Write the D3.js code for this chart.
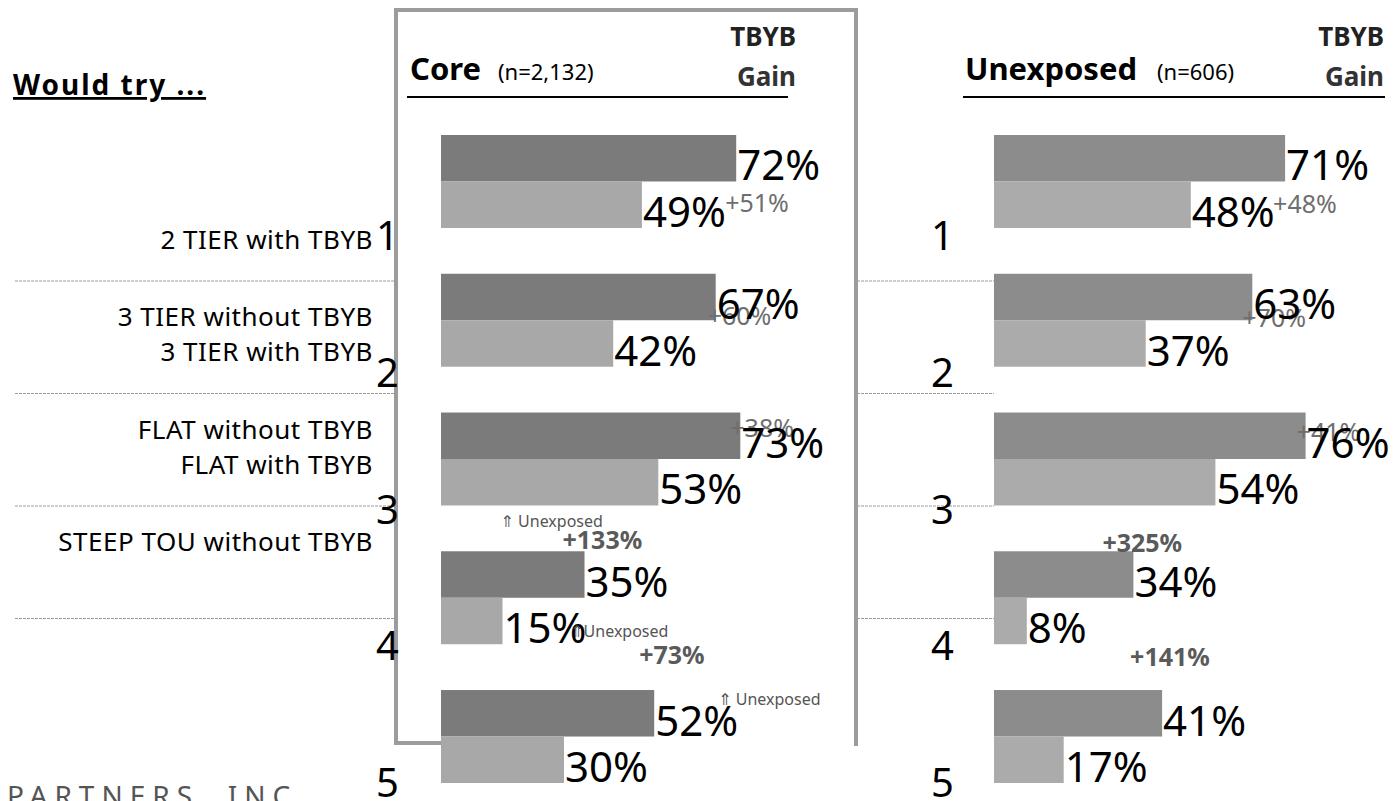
<!DOCTYPE html>
<html>
<head>
<meta charset="utf-8">
<script src="https://cdn.jsdelivr.net/npm/d3@7"></script>
<style>
body { margin: 0; background: #fff; }
svg { display: block; }
text { font-family: "Noto Sans", "DejaVu Sans", sans-serif; }
</style>
</head>
<body>
<div class="render"></div>
<script>
// values
var categories = ["1", "2", "3", "4", "5"];
var coreWith = [72, 67, 73, 35, 52];
var coreWithout = [49, 42, 53, 15, 30];
var coreGain = ["+51%", "+60%", "+38%", "+133%", "+73%"];
var unexWith = [71, 63, 76, 34, 41];
var unexWithout = [48, 37, 54, 8, 17];
var unexGain = ["+48%", "+70%", "+41%", "+325%", "+141%"];
var rowLabels = [
    ["", "2 TIER with TBYB"],
    ["3 TIER without TBYB", "3 TIER with TBYB"],
    ["FLAT without TBYB", "FLAT with TBYB"],
    ["STEEP TOU without TBYB", ""],
    ["", ""]
];

var W = 1397, H = 801;
var svg = d3.select(".render").append("svg").attr("width", W).attr("height", H);

// shared scales
var x = d3.scaleLinear().domain([0, 100]).range([0, 410]);
var y = d3.scaleBand().domain(categories).range([135, 783]).paddingInner(0.33);
var sub = d3.scaleBand().domain(["with", "without"]).range([0, y.bandwidth()]);
var numY = d3.scalePoint().domain(categories).range([250, 797]);
var rowY = d3.scaleBand().domain(categories).range([168.5, 731]);

// dotted separators between rows
var seps = categories.slice(1);
[[15, 396], [857, 994]].forEach(function (span) {
    svg.append("g").selectAll("line").data(seps).enter().append("line")
        .attr("x1", span[0]).attr("x2", span[1])
        .attr("y1", function (d) { return rowY(d); })
        .attr("y2", function (d) { return rowY(d); })
        .attr("stroke", "#9a9a9a")
        .attr("stroke-width", 1)
        .attr("stroke-dasharray", "3,1");
});

// left header + row labels
svg.append("text").attr("x", 13).attr("y", 95)
    .attr("font-size", 28).attr("font-weight", "bold")
    .attr("letter-spacing", 2)
    .attr("text-decoration", "underline")
    .text("Would try ...");

var rows = svg.append("g").selectAll("g").data(rowLabels).enter().append("g")
    .attr("transform", function (d, i) { return "translate(0," + rowY(categories[i]) + ")"; });
rows.selectAll("text").data(function (d) { return d; }).enter().append("text")
    .attr("x", 373)
    .attr("y", function (d, i) { return i === 0 ? 45 : 80; })
    .attr("text-anchor", "end")
    .attr("font-size", 26)
    .attr("letter-spacing", 0.5)
    .text(function (d) { return d; });

svg.append("text").attr("x", 7).attr("y", 806)
    .attr("font-family", "Liberation Serif, serif")
    .attr("font-size", 28).attr("letter-spacing", 7)
    .attr("fill", "#555")
    .text("PARTNERS, INC.");

// box around the Core panel
svg.append("path")
    .attr("d", "M396,745 L396,10 L856,10 L856,746 M396,743 L441,743")
    .attr("fill", "none").attr("stroke", "#9c9c9c").attr("stroke-width", 4);

function panel(p) {
    var g = svg.append("g").attr("transform", "translate(" + p.x0 + ",0)");

    // header
    g.append("text").attr("x", p.titleX).attr("y", 80)
        .attr("font-size", 31).attr("font-weight", "bold").text(p.title);
    g.append("text").attr("x", p.nX).attr("y", 80)
        .attr("font-size", 22).text(p.n);
    g.append("text").attr("x", p.gainX).attr("y", 46).attr("text-anchor", "end")
        .attr("font-size", 26).attr("font-weight", "bold").attr("fill", "#222").text("TBYB");
    g.append("text").attr("x", p.gainX).attr("y", 86).attr("text-anchor", "end")
        .attr("font-size", 26).attr("font-weight", "bold").attr("fill", "#333").text("Gain");
    g.append("line").attr("x1", p.lineX[0]).attr("x2", p.lineX[1])
        .attr("y1", 97).attr("y2", 97).attr("stroke", "#000").attr("stroke-width", 2);

    var data = categories.map(function (c, i) {
        return { cat: c, with: p.withV[i], without: p.withoutV[i], gain: p.gain[i], i: i };
    });

    var grp = g.selectAll(".grp").data(data).enter().append("g")
        .attr("class", "grp")
        .attr("transform", function (d) { return "translate(0," + y(d.cat) + ")"; });

    grp.append("rect").attr("x", 0).attr("y", sub("with"))
        .attr("width", function (d) { return x(d.with); })
        .attr("height", sub.bandwidth()).attr("fill", p.dark);
    grp.append("rect").attr("x", 0).attr("y", sub("without"))
        .attr("width", function (d) { return x(d.without); })
        .attr("height", sub.bandwidth()).attr("fill", p.light);

    // gain labels, placed by hand in the original
    grp.append("text")
        .attr("x", function (d) { return x(d.with) + p.gainDx[d.i]; })
        .attr("y", function (d) { return p.gainDy[d.i]; })
        .attr("font-size", 25)
        .attr("font-weight", function (d) { return d.i > 2 ? "bold" : "normal"; })
        .attr("fill", function (d) { return d.i > 2 ? "#5a5a5a" : "#6e6e6e"; })
        .text(function (d) { return d.gain; });

    // annotations
    (p.notes || []).forEach(function (nt) {
        var d = data[nt.group];
        g.append("text")
            .attr("x", x(d.with) + p.gainDx[d.i] + nt.dx)
            .attr("y", y(d.cat) + p.gainDy[d.i] + nt.dy)
            .attr("font-size", 16).attr("fill", "#555")
            .text(nt.text);
    });

    grp.append("text")
        .attr("x", function (d) { return x(d.with) + 1; })
        .attr("y", sub("with") + sub.bandwidth() - 1)
        .attr("font-size", 42).text(function (d) { return d.with + "%"; });
    grp.append("text")
        .attr("x", function (d) { return x(d.without) + 1; })
        .attr("y", sub("without") + sub.bandwidth() - 1)
        .attr("font-size", 42).text(function (d) { return d.without + "%"; });

    // category numbers
    svg.append("g").selectAll("text").data(categories).enter().append("text")
        .attr("x", p.numX).attr("y", function (d) { return numY(d); })
        .attr("text-anchor", p.numAnchor)
        .attr("font-size", 40).text(function (d) { return d; });
}

panel({
    x0: 441, title: "Core", titleX: -31, n: "(n=2,132)", nX: 57,
    gainX: 355, lineX: [-34, 347],
    withV: coreWith, withoutV: coreWithout, gain: coreGain,
    dark: "#7b7b7b", light: "#a8a8a8",
    gainDx: [-11, -8, -10, -22, -15], gainDy: [77, 51, 24, -2, -26],
    numX: 399, numAnchor: "end",
    notes: [
        { group: 3, dx: -62, dy: -22, text: "\u21d1 Unexposed" },
        { group: 4, dx: -69, dy: -27, text: "\u21d1Unexposed" },
        { group: 4, dx: 79, dy: 41, text: "\u21d1 Unexposed" }
    ]
});

panel({
    x0: 994, title: "Unexposed", titleX: -29, n: "(n=606)", nX: 163,
    gainX: 390, lineX: [-31, 391],
    withV: unexWith, withoutV: unexWithout, gain: unexGain,
    dark: "#8c8c8c", light: "#ababab",
    gainDx: [-12, -10, -9, -31, -32], gainDy: [78, 53, 28, 1, -24],
    numX: 931, numAnchor: "start"
});
</script>
</body>
</html>
